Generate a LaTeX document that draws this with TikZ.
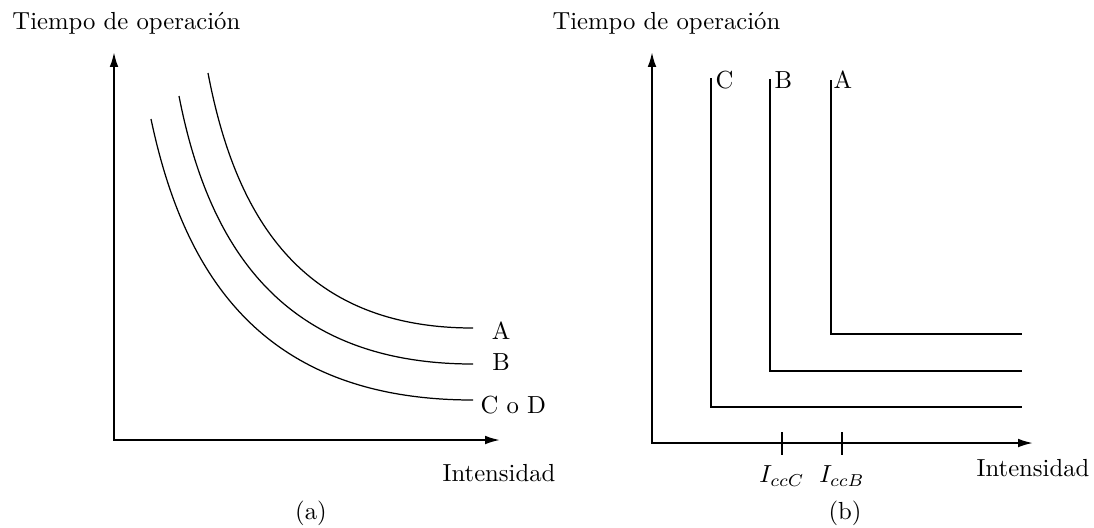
\documentclass[tikz,border=0pt]{standalone}
\usetikzlibrary{arrows.meta}

\begin{document}
\begin{tikzpicture}[x=0.405pt,y=-0.405pt,
		axis/.style={line width=0.8pt,{Latex[length=6pt,width=3.5pt]}-{Latex[length=6pt,width=3.5pt]}},
		curve/.style={line width=0.5pt},
		marca/.style={line width=0.5pt}]
	\useasboundingbox (0,0) rectangle (1094,527);

	% (a)
	\coordinate (Oa) at (114,440);
	\coordinate (Ya) at (114,52);
	\coordinate (Xa) at (500,440);
	\draw[axis] (Ya) -- (Oa) -- (Xa);
	\node[anchor=west,inner sep=0] (tiempoA) at (12,23) {Tiempo de operación};
	\node (intA) at (499,473) {Intensidad};
	\node (capA) at (311,513) {(a)};

	\coordinate (a1) at (208,73);
	\coordinate (a2) at (473,328);
	\coordinate (b1) at (179,96);
	\coordinate (b2) at (473,364);
	\coordinate (c1) at (151,119);
	\coordinate (c2) at (473,400);
	\draw[curve] (a1) .. controls (235,215) and (300,328) .. (a2);
	\draw[curve] (b1) .. controls (208,245) and (281,364) .. (b2);
	\draw[curve] (c1) .. controls (184,276) and (263,400) .. (c2);
	\node (labA) at (501,331) {A};
	\node (labB) at (501,362) {B};
	\node[anchor=west,inner sep=0] (labCD) at (480,405) {C o D};

	% (b)
	\coordinate (Ob) at (652,443);
	\coordinate (Yb) at (652,52);
	\coordinate (Xb) at (1033,443);
	\draw[axis] (Yb) -- (Ob) -- (Xb);
	\node[anchor=west,inner sep=0] (tiempoB) at (552,23) {Tiempo de operación};
	\node (intB) at (1033,468) {Intensidad};
	\node (capB) at (845,513) {(b)};

	\draw[curve] (711,78) -- (711,407) -- (1022,407);
	\draw[curve] (770,79) -- (770,371) -- (1022,371);
	\draw[curve] (831,80) -- (831,334) -- (1022,334);
	\node[anchor=base west,inner sep=0] (stepC) at (715,88) {C};
	\node[anchor=base west,inner sep=0] (stepB) at (774,88) {B};
	\node[anchor=base west,inner sep=0] (stepA) at (833,88) {A};

	\draw[marca] (782,432) -- (782,455);
	\draw[marca] (842,432) -- (842,455);
	\node[anchor=north] (iccC) at (782,457) {$I_{ccC}$};
	\node[anchor=north] (iccB) at (842,457) {$I_{ccB}$};
\end{tikzpicture}
\end{document}
